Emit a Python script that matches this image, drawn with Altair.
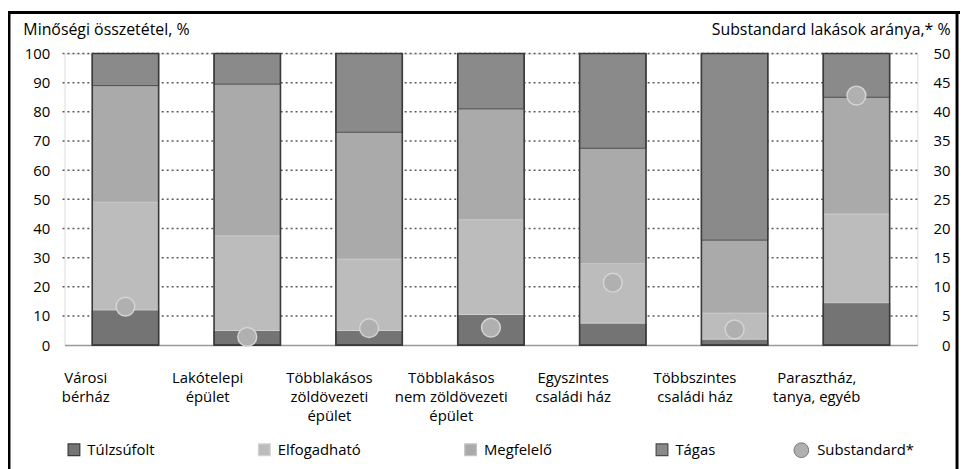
import altair as alt
import pandas as pd

# ---------------- data ----------------
categories = [
    "Városi\nbérház",
    "Lakótelepi\népület",
    "Többlakásos\nzöldövezeti\népület",
    "Többlakásos\nnem zöldövezeti\népület",
    "Egyszintes\ncsaládi ház",
    "Többszintes\ncsaládi ház",
    "Parasztház,\ntanya, egyéb",
]
series = ["Túlzsúfolt", "Elfogadható", "Megfelelő", "Tágas"]
tulzsufolt = [12, 5, 5, 10.5, 7.5, 2, 14.5]
elfogadhato = [37, 32.5, 24.5, 32.5, 20.5, 9, 30.5]
megfelelo = [40, 52, 43.5, 38, 39.5, 25, 40]
tagas = [11, 10.5, 27, 19, 32.5, 64, 15]
substandard = [6.6, 1.4, 2.9, 3.0, 10.7, 2.7, 42.8]
substandard_name = "Substandard*"
left_ticks = list(range(0, 101, 10))
right_ticks = list(range(0, 51, 5))

# ---------------- styles ----------------
fills = ["#747474", "#bcbcbc", "#aaaaaa", "#8a8a8a"]
strokes = ["#3a3a3a", "#d2d2d2", "#c4c4c4", "#4a4a4a"]
FONT = "Open Sans"

rows = []
for s_i, (name, vals) in enumerate(zip(series, [tulzsufolt, elfogadhato, megfelelo, tagas])):
    for c, v in zip(categories, vals):
        rows.append({"cat": c, "series": name, "value": v, "idx": s_i})
df = pd.DataFrame(rows)
df_tot = pd.DataFrame({"cat": categories, "total": [a + b + c + d for a, b, c, d in
                                                      zip(tulzsufolt, elfogadhato, megfelelo, tagas)]})
df_sub = pd.DataFrame({"cat": categories, "sub": substandard, "name": substandard_name})
df_grid = pd.DataFrame({"tick": [t for t in left_ticks if t > 0]})

x_axis = alt.Axis(
    title=None, labelAngle=0, labelExpr="split(datum.label, '\\n')",
    ticks=False, domainColor="#9a9a9a", domainWidth=1.5,
    labelPadding=26, labelLineHeight=19, labelOffset=-40,
    labelBaseline="top", labelFontSize=15, labelLimit=300,
    labelFont=FONT,
)
x_scale = alt.Scale(domain=categories, paddingInner=0.455, paddingOuter=0.2275)

left_axis = alt.Axis(
    values=left_ticks, grid=False,
    domain=False, ticks=False, labelPadding=15, labelFontSize=15, labelOverlap=False,
    labelFont=FONT, titleFont=FONT,
    title="Minőségi összetétel, %", titleAngle=0, titleX=-42, titleY=-19,
    titleAlign="left", titleBaseline="alphabetic", titleFontWeight="normal",
    titleFontSize=16,
)
left_scale = alt.Scale(domain=[0, 100], nice=False)

grid = alt.Chart(df_grid).mark_rule(
    color="#5a5a5a", strokeWidth=1.5, strokeDash=[2, 3], opacity=1
).encode(
    x=alt.value(-2),
    x2=alt.value(860),
    y=alt.Y("tick:Q", scale=left_scale, axis=left_axis),
)

bars = alt.Chart(df).mark_bar(strokeWidth=1).encode(
    x=alt.X("cat:N", sort=categories, scale=x_scale, axis=x_axis),
    y=alt.Y("value:Q", stack="zero", scale=left_scale, axis=left_axis),
    color=alt.Color(
        "series:N", scale=alt.Scale(domain=series, range=fills),
        legend=alt.Legend(
            title=None, orient="none", legendX=2, legendY=392, direction="horizontal",
            columns=4, columnPadding=102, symbolType="square", symbolSize=140,
            symbolStrokeColor="#333333", symbolStrokeWidth=1.2, labelFontSize=15,
            labelOffset=6, labelFont=FONT,
        ),
    ),
    stroke=alt.Stroke("series:N", scale=alt.Scale(domain=series, range=strokes), legend=None),
    order=alt.Order("idx:Q", sort="ascending"),
)

outline = alt.Chart(df_tot).mark_bar(filled=False, stroke="#3a3a3a", strokeWidth=1.6).encode(
    x=alt.X("cat:N", sort=categories, scale=x_scale, axis=x_axis),
    y=alt.Y("total:Q", scale=left_scale, axis=left_axis),
)

left_layer = alt.layer(grid, bars, outline)

circles = alt.Chart(df_sub).mark_point(
    filled=True, shape="circle", size=360, stroke="#d4d4d4", strokeWidth=1.5, opacity=1
).encode(
    x=alt.X("cat:N", sort=categories, scale=x_scale, axis=x_axis),
    y=alt.Y(
        "sub:Q", scale=alt.Scale(domain=[0, 50], nice=False),
        axis=alt.Axis(
            orient="right", values=right_ticks, grid=False, domain=False, ticks=False,
            labelAlign="right", labelPadding=33, labelFontSize=15, labelOverlap=False,
            labelFont=FONT, titleFont=FONT,
            title="Substandard lakások aránya,* %", titleAngle=0, titleX=33, titleY=-19,
            titleAlign="right", titleBaseline="alphabetic", titleFontWeight="normal",
            titleFontSize=16,
        ),
    ),
    fill=alt.Fill(
        "name:N", scale=alt.Scale(domain=[substandard_name], range=["#b0b0b0"]),
        legend=alt.Legend(
            title=None, orient="none", legendX=735, legendY=392, symbolType="circle",
            symbolSize=220, symbolStrokeColor="#777777", symbolStrokeWidth=1,
            labelFontSize=15, labelOffset=8, labelFont=FONT,
        ),
    ),
)

frame_df = pd.DataFrame({"k": [0]})
frame_left = alt.Chart(frame_df).mark_rule(color="black", strokeWidth=3).encode(
    x=alt.value(-56), y=alt.value(-43), y2=alt.value(420)
)
frame_top = alt.Chart(frame_df).mark_rule(color="black", strokeWidth=3).encode(
    x=alt.value(-57.5), x2=alt.value(903), y=alt.value(-41.5)
)
frame_right = alt.Chart(frame_df).mark_rule(color="black", strokeWidth=3).encode(
    x=alt.value(900), y=alt.value(-43), y2=alt.value(420)
)

chart = (
    alt.layer(left_layer, circles, frame_left, frame_top, frame_right)
    .resolve_scale(y="independent")
    .properties(
        width=860, height=294,
        autosize=alt.AutoSizeParams(type="none"),
        padding={"left": 57, "top": 44, "right": 43, "bottom": 123},
    )
    .configure_view(stroke=None)
    .configure_axis(labelFont=FONT, titleFont=FONT, labelColor="#111111", titleColor="#111111")
    .configure_legend(labelFont=FONT, labelColor="#111111")
    .configure(background="white", font=FONT)
)

chart.save("out.html", embed_options={"renderer": "svg", "actions": False})
